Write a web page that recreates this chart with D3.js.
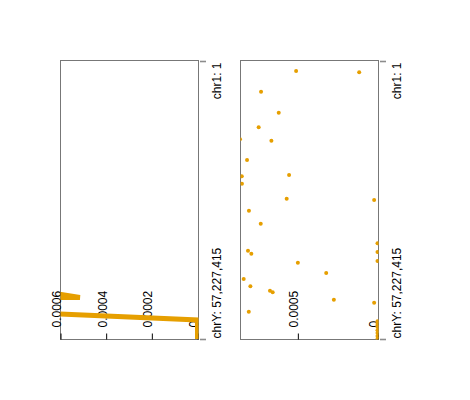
<!DOCTYPE html>
<html>
<head>
<meta charset="utf-8">
<script src="https://cdn.jsdelivr.net/npm/d3@7"></script>
<style>
body { margin: 0; background: #fff; }
text { font-family: "Liberation Sans", Arial, sans-serif; font-size: 12px; fill: #000; }
</style>
</head>
<body>
<svg id="chart" width="470" height="400"></svg>
<script>
// genome axis (Mb along chr1..chrY, hg38)
var genomeMb = 3088.27;
var genomeTicks = [0, 3088.27];
var genomeLabels = ["chr1: 1", "chrY: 57,227,415"];

// left panel: line
var linePos = [0, 150, 420, 900, 1500, 2000, 2433, 2627, 2644, 2722, 2877, 3088.27];
var lineVal = [0.0011, 0.0013, 0.0012, 0.0015, 0.0011, 0.0013, 0.00098, 0.000515, 0.0015, 0.0014, 0, 0];
var lineTicks = [0, 0.0002, 0.0004, 0.0006];
var lineTickLabels = ["0", "0.0002", "0.0004", "0.0006"];

// right panel: points
var dotPos = [111, 125.5, 341, 574, 736.5, 870, 885, 1100, 1266, 1281, 1363, 1530, 1544, 1663, 1807,
              2025, 2107, 2122, 2141, 2222, 2241, 2355, 2422, 2503, 2552, 2570, 2652, 2685, 2785,
              2890, 2923, 2956, 2990, 3023, 3056, 3085];
var dotVal = [0.000511, 0.000115, 0.000731, 0.000620, 0.000746, 0.000863, 0.000666, 0.000819, 0.000555, 0.000852, 0.000851, 0.000570, 0.000021, 0.000807, 0.000733,
              0, 0.000813, 0, 0.000792, 0, 0.000500, 0.000322, 0.000840, 0.000798, 0.000675, 0.000658, 0.000274, 0.000021, 0.000808,
              0, 0, 0, 0, 0, 0, 0];
var dotTicks = [0, 0.0005];
var dotTickLabels = ["0", "0.0005"];

var orange = "#E69F00";
var top0 = 60.5, panelW = 138, panelH = 279;

var svg = d3.select("#chart");

// genome scale runs top to bottom
var y = d3.scaleLinear().domain([0, genomeMb]).range([61, 339]);

// draws one panel frame + axes, returns the value scale
function drawPanel(x0, maxVal, ticks, tickLabels, id) {
    var x = d3.scaleLinear().domain([0, maxVal]).range([x0 + 137, x0]);

    svg.append("clipPath").attr("id", id)
        .append("rect").attr("x", x0).attr("y", top0).attr("width", panelW).attr("height", panelH);

    svg.append("rect")
        .attr("x", x0).attr("y", top0).attr("width", panelW).attr("height", panelH)
        .attr("fill", "none").attr("stroke", "#777").attr("stroke-width", 1);

    // value axis along the bottom, ticks pointing in, labels rotated
    var ax = svg.append("g")
        .attr("transform", "translate(0," + (top0 + panelH) + ")")
        .call(d3.axisTop(x).tickValues(ticks).tickSize(6).tickSizeOuter(0)
            .tickFormat(function(d, i) { return tickLabels[i]; }));
    ax.select(".domain").remove();
    ax.selectAll(".tick line").attr("stroke", "#000");
    ax.selectAll(".tick text")
        .attr("transform", "rotate(-90)")
        .attr("x", 12).attr("y", 0).attr("dy", null)
        .attr("text-anchor", "start")
        .style("font-family", null).style("font-size", null).attr("font-family", null).attr("font-size", null);

    // genome axis on the right
    var gx = svg.append("g")
        .attr("transform", "translate(" + (x0 + panelW + 1.5) + ",0)")
        .call(d3.axisRight(y).tickValues(genomeTicks).tickSize(6).tickSizeOuter(0)
            .tickFormat(function(d, i) { return genomeLabels[i]; }));
    gx.select(".domain").remove();
    gx.selectAll(".tick line").attr("stroke", "#8c8c8c").attr("stroke-width", 1.6);
    gx.selectAll(".tick text")
        .attr("transform", "rotate(-90)")
        .attr("y", 20.5).attr("dy", null)
        .attr("x", function(d, i) { return i == 0 ? -1 : 1; })
        .attr("text-anchor", function(d, i) { return i == 0 ? "end" : "start"; })
        .attr("font-family", null).attr("font-size", null);
    return x;
}

// left panel
var xL = drawPanel(60.5, 0.0006, lineTicks, lineTickLabels, "clipL");
var lineData = linePos.map(function(p, i) { return [p, lineVal[i]]; });
svg.append("path")
    .datum(lineData)
    .attr("clip-path", "url(#clipL)")
    .attr("fill", "none")
    .attr("stroke", orange)
    .attr("stroke-width", 5)
    .attr("d", d3.line().x(function(d) { return xL(d[1]); }).y(function(d) { return y(d[0]); }));

// right panel
var xR = drawPanel(240.5, 0.00086, dotTicks, dotTickLabels, "clipR");
svg.append("g").attr("clip-path", "url(#clipR)")
    .selectAll("circle")
    .data(dotPos)
    .enter().append("circle")
    .attr("cx", function(d, i) { return xR(dotVal[i]); })
    .attr("cy", function(d) { return y(d); })
    .attr("r", 2)
    .attr("fill", orange);
</script>
</body>
</html>
